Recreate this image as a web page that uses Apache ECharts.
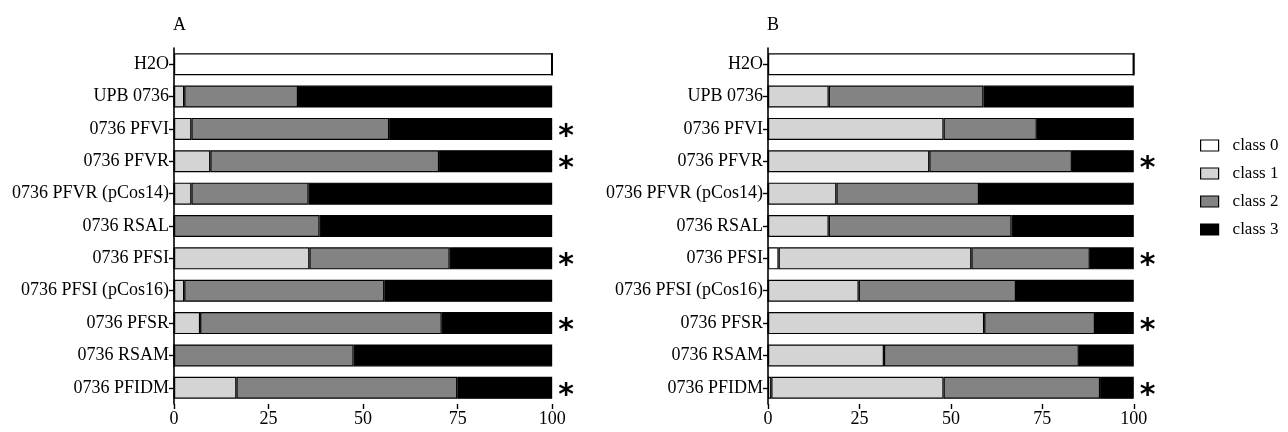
<!DOCTYPE html>
<html>
<head>
<meta charset="utf-8">
<script src="https://cdn.jsdelivr.net/npm/echarts@6/dist/echarts.min.js"></script>
<style>
  html, body { margin: 0; padding: 0; background: #fff; }
  #chart { width: 1288px; height: 432px; }
</style>
</head>
<body>
<div id="chart"></div>
<script>
// categories, top to bottom
var strains = ['H2O', 'UPB 0736', '0736 PFVI', '0736 PFVR', '0736 PFVR (pCos14)', '0736 RSAL',
  '0736 PFSI', '0736 PFSI (pCos16)', '0736 PFSR', '0736 RSAM', '0736 PFIDM'];
var classNames = ['class 0', 'class 1', 'class 2', 'class 3'];
var xTicks = [0, 25, 50, 75, 100];

// panel A, percent per class
var a0 = [100, 0, 0, 0, 0, 0, 0, 0, 0, 0, 0];
var a1 = [0, 2.7, 4.6, 9.6, 4.6, 0, 35.8, 2.7, 6.9, 0, 16.5];
var a2 = [0, 30.1, 52.3, 60.5, 31.0, 38.5, 37.1, 52.9, 63.9, 47.5, 58.4];
var a3 = [0, 67.2, 43.1, 29.9, 64.4, 61.5, 27.1, 44.4, 29.2, 52.5, 25.1];
var aStar = [0, 0, 1, 1, 0, 0, 1, 0, 1, 0, 1];

// panel B, percent per class
var b0 = [100, 0, 0, 0, 0, 0, 2.9, 0, 0, 0, 0.9];
var b1 = [0, 16.6, 48.0, 44.1, 18.7, 16.6, 52.7, 24.8, 59.1, 31.7, 47.1];
var b2 = [0, 42.3, 25.5, 39.0, 39.0, 50.0, 32.4, 43.0, 30.3, 53.3, 42.8];
var b3 = [0, 41.1, 26.5, 16.9, 42.3, 33.4, 12.0, 32.2, 10.6, 15.0, 9.2];
var bStar = [0, 0, 0, 1, 0, 0, 1, 0, 1, 0, 1];

var fills = ['#ffffff', '#d4d4d4', '#838383', '#000000'];
var font = 'Liberation Serif';

function makeSeries(panel, lists, stars) {
  return lists.map(function (vals, k) {
    var s = {
      name: classNames[k],
      type: 'bar',
      stack: 'p' + panel,
      xAxisIndex: panel,
      yAxisIndex: panel,
      barWidth: 22,
      data: vals,
      itemStyle: { color: fills[k], borderColor: '#000', borderWidth: 1.2 },
      emphasis: { disabled: true }
    };
    if (k === 3) {
      s.label = {
        show: true,
        position: 'right',
        distance: 6,
        offset: [0, 8],
        fontFamily: 'DejaVu Sans',
        fontWeight: 'bold',
        fontSize: 30,
        color: '#000',
        formatter: function (p) { return stars[p.dataIndex] ? '*' : ''; }
      };
    }
    return s;
  });
}

function xAxis(idx, max) {
  return {
    type: 'value', gridIndex: idx, min: 0, max: max,
    splitLine: { show: false },
    axisLine: { lineStyle: { color: '#000', width: 1.6 } },
    axisTick: { show: true, length: 5, customValues: xTicks, lineStyle: { color: '#000', width: 1.4 } },
    axisLabel: { customValues: xTicks, color: '#000', fontFamily: font, fontSize: 18, margin: 6 }
  };
}

function yAxis(idx) {
  return {
    type: 'category', gridIndex: idx, data: strains, inverse: true,
    axisLine: { lineStyle: { color: '#000', width: 1.6 } },
    axisTick: { show: true, length: 5, alignWithLabel: true, lineStyle: { color: '#000', width: 1.4 } },
    axisLabel: { color: '#000', fontFamily: font, fontSize: 18, margin: 5 }
  };
}

var chart = echarts.init(document.getElementById('chart'));
var option = {
  backgroundColor: '#fff',
  animation: false,
  title: [
    { text: 'A', left: 168, top: 11, textStyle: { fontFamily: font, fontSize: 18, fontWeight: 'normal', color: '#000' } },
    { text: 'B', left: 762, top: 11, textStyle: { fontFamily: font, fontSize: 18, fontWeight: 'normal', color: '#000' } }
  ],
  legend: {
    orient: 'vertical',
    left: 1195, top: 132,
    icon: 'rect',
    itemWidth: 18, itemHeight: 11, itemGap: 11,
    data: classNames,
    itemStyle: { borderColor: '#000', borderWidth: 1.2 },
    textStyle: { fontFamily: font, fontSize: 17, color: '#000', padding: [0, 0, 0, 9] }
  },
  grid: [
    { left: 174, top: 48, width: 416, height: 356 },
    { left: 768, top: 48, width: 406, height: 356 }
  ],
  xAxis: [xAxis(0, 110), xAxis(1, 111)],
  yAxis: [yAxis(0), yAxis(1)],
  series: makeSeries(0, [a0, a1, a2, a3], aStar).concat(makeSeries(1, [b0, b1, b2, b3], bStar))
};
chart.setOption(option);
</script>
</body>
</html>
